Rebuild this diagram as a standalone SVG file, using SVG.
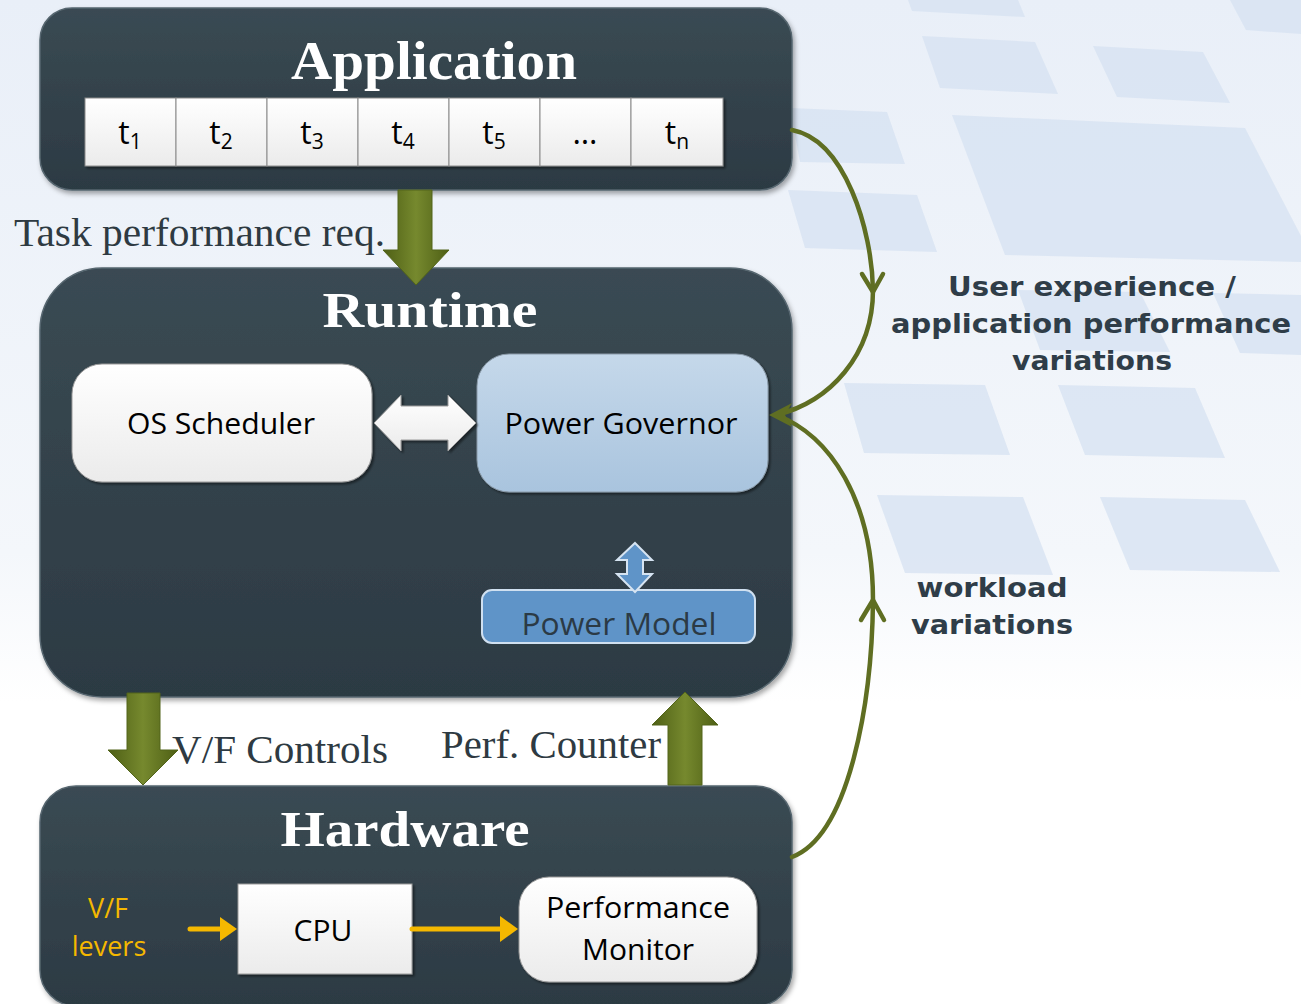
<svg xmlns="http://www.w3.org/2000/svg" width="1301" height="1004" viewBox="0 0 1301 1004">
<defs>
  <linearGradient id="bg" x1="0" y1="0" x2="0" y2="1">
    <stop offset="0" stop-color="#e9eff8"/>
    <stop offset="0.55" stop-color="#f4f7fb"/>
    <stop offset="0.7" stop-color="#ffffff"/>
    <stop offset="1" stop-color="#ffffff"/>
  </linearGradient>
  <linearGradient id="dark" x1="0" y1="0" x2="0" y2="1">
    <stop offset="0" stop-color="#3a4a53"/>
    <stop offset="0.5" stop-color="#33424b"/>
    <stop offset="1" stop-color="#2c3a43"/>
  </linearGradient>
  <linearGradient id="white" x1="0" y1="0" x2="0" y2="1">
    <stop offset="0" stop-color="#ffffff"/>
    <stop offset="1" stop-color="#ebebeb"/>
  </linearGradient>
  <linearGradient id="lblue" x1="0" y1="0" x2="0" y2="1">
    <stop offset="0" stop-color="#c5d8ea"/>
    <stop offset="1" stop-color="#a9c4de"/>
  </linearGradient>
  <linearGradient id="olive" x1="0" y1="0" x2="1" y2="0">
    <stop offset="0" stop-color="#4e5f15"/>
    <stop offset="0.5" stop-color="#76892e"/>
    <stop offset="1" stop-color="#4e5f15"/>
  </linearGradient>
  <filter id="sh" x="-10%" y="-10%" width="120%" height="125%">
    <feDropShadow dx="2" dy="3" stdDeviation="2.5" flood-color="#000" flood-opacity="0.35"/>
  </filter>
  <filter id="sh2" x="-10%" y="-10%" width="120%" height="125%">
    <feDropShadow dx="2" dy="2" stdDeviation="1" flood-color="#000" flood-opacity="0.45"/>
  </filter>
  <style>
    .dark{fill:url(#dark);stroke:#56666f;stroke-width:1.5;filter:url(#sh)}
    .title{font-family:"Liberation Serif",serif;font-weight:bold;fill:#ffffff;text-anchor:middle}
    .serif{font-family:"Liberation Serif",serif;fill:#2e3a42;font-size:39px}
    .sans{font-family:"Open Sans","Liberation Sans",sans-serif;fill:#000;text-anchor:middle}
    .cell{fill:url(#white);stroke:#8a8a8a;stroke-width:1}
    .tk{font-family:"Open Sans","Liberation Sans",sans-serif;fill:#000;font-size:32px;text-anchor:middle}
    .lbl{font-family:"DejaVu Sans",sans-serif;font-weight:bold;fill:#2f3d48;font-size:27px;text-anchor:middle}
    .curve{fill:none;stroke:#5f6e22;stroke-width:4.5;stroke-linecap:round;stroke-linejoin:round}
    .tile{fill:#d6e2f2;opacity:0.75}
    .orange{stroke:#f5b800;stroke-width:5;fill:none;stroke-linecap:round}
    .block{fill:url(#olive);stroke:#52641a;stroke-width:1}
  </style>
</defs>

<rect width="1301" height="1004" fill="url(#bg)"/>
<g id="background-tiles">
  <polygon class="tile" points="908,0 1018,0 1025,17 912,11"/>
  <polygon class="tile" points="922,36 1035,42 1058,94 940,88"/>
  <polygon class="tile" points="1093,46 1203,52 1230,103 1117,97"/>
  <polygon class="tile" points="1230,0 1301,0 1301,34 1246,30"/>
  <polygon class="tile" points="790,108 887,112 905,164 800,162"/>
  <polygon class="tile" points="952,115 1245,128 1301,236 1301,262 1005,255"/>
  <polygon class="tile" points="788,190 917,195 937,252 805,248"/>
  <polygon class="tile" points="1018,290 1140,292 1170,352 1040,350"/>
  <polygon class="tile" points="1213,293 1301,295 1301,355 1240,353"/>
  <polygon class="tile" points="844,383 985,385 1010,455 864,453"/>
  <polygon class="tile" points="1058,385 1195,388 1225,458 1085,455"/>
  <polygon class="tile" points="877,495 1023,497 1053,575 905,573"/>
  <polygon class="tile" points="1100,497 1245,500 1280,572 1130,570"/>
</g>

<g id="application">
  <rect class="dark" x="40" y="8" width="752" height="182" rx="32"/>
  <text class="title" x="434" y="79" font-size="54" textLength="286" lengthAdjust="spacingAndGlyphs">Application</text>
  <g id="tasks" filter="url(#sh2)">
    <rect class="cell" x="85" y="98" width="91" height="68"/>
    <rect class="cell" x="176" y="98" width="91" height="68"/>
    <rect class="cell" x="267" y="98" width="91" height="68"/>
    <rect class="cell" x="358" y="98" width="91" height="68"/>
    <rect class="cell" x="449" y="98" width="91" height="68"/>
    <rect class="cell" x="540" y="98" width="91" height="68"/>
    <rect class="cell" x="631" y="98" width="92" height="68"/>
  </g>
  <text class="tk" x="130" y="144">t<tspan font-size="21" dy="5">1</tspan></text>
  <text class="tk" x="221" y="144">t<tspan font-size="21" dy="5">2</tspan></text>
  <text class="tk" x="312" y="144">t<tspan font-size="21" dy="5">3</tspan></text>
  <text class="tk" x="403" y="144">t<tspan font-size="21" dy="5">4</tspan></text>
  <text class="tk" x="494" y="144">t<tspan font-size="21" dy="5">5</tspan></text>
  <text class="tk" x="585" y="144" font-size="22">…</text>
  <text class="tk" x="677" y="144">t<tspan font-size="21" dy="5">n</tspan></text>
</g>

<text class="serif" x="14" y="246" textLength="371" lengthAdjust="spacingAndGlyphs">Task performance req.</text>

<g id="runtime">
  <rect class="dark" x="40" y="268" width="752" height="429" rx="62"/>
  <text class="title" x="430" y="327" font-size="50" textLength="215" lengthAdjust="spacingAndGlyphs">Runtime</text>
</g>

<g id="os-scheduler">
  <rect x="72" y="364" width="300" height="118" rx="30" fill="url(#white)" stroke="#9a9a9a" stroke-width="1" filter="url(#sh2)"/>
  <text class="sans" x="221" y="434" font-size="30" textLength="188" lengthAdjust="spacingAndGlyphs">OS Scheduler</text>
</g>

<g id="power-governor">
  <rect x="477" y="354" width="291" height="138" rx="32" fill="url(#lblue)" stroke="#8a9aa8" stroke-width="1" filter="url(#sh2)"/>
  <text class="sans" x="621" y="434" font-size="30" textLength="233" lengthAdjust="spacingAndGlyphs">Power Governor</text>
</g>

<g id="power-model">
  <rect x="482" y="590" width="273" height="53" rx="10" fill="#5f94c8" stroke="#d0e0f0" stroke-width="2"/>
  <text class="sans" x="619" y="635" font-size="31" style="fill:#2b3a45" textLength="195" lengthAdjust="spacingAndGlyphs">Power Model</text>
</g>

<text class="serif" x="172" y="763" textLength="216" lengthAdjust="spacingAndGlyphs">V/F Controls</text>
<text class="serif" x="441" y="758" textLength="220" lengthAdjust="spacingAndGlyphs">Perf. Counter</text>

<g id="hardware">
  <rect class="dark" x="40" y="786" width="752" height="220" rx="36"/>
  <text class="title" x="405" y="846" font-size="50" textLength="249" lengthAdjust="spacingAndGlyphs">Hardware</text>
</g>

<g id="vf-levers">
  <text class="sans" x="108" y="918" font-size="27" style="fill:#f5b800">V/F</text>
  <text class="sans" x="109" y="956" font-size="27" style="fill:#f5b800">levers</text>
</g>

<g id="cpu">
  <rect x="238" y="884" width="174" height="90" fill="url(#white)" stroke="#9a9a9a" stroke-width="1" filter="url(#sh2)"/>
  <text class="sans" x="323" y="941" font-size="30">CPU</text>
</g>

<g id="performance-monitor">
  <rect x="519" y="877" width="238" height="105" rx="30" fill="url(#white)" stroke="#9a9a9a" stroke-width="1" filter="url(#sh2)"/>
  <text class="sans" x="638" y="918" font-size="30" textLength="184" lengthAdjust="spacingAndGlyphs">Performance</text>
  <text class="sans" x="638" y="960" font-size="30">Monitor</text>
</g>

<g id="labels">
  <text class="lbl" x="1092" y="296" textLength="288" lengthAdjust="spacingAndGlyphs">User experience /</text>
  <text class="lbl" x="1091" y="333" textLength="400" lengthAdjust="spacingAndGlyphs">application performance</text>
  <text class="lbl" x="1092" y="370" textLength="160" lengthAdjust="spacingAndGlyphs">variations</text>
  <text class="lbl" x="992" y="597" textLength="151" lengthAdjust="spacingAndGlyphs">workload</text>
  <text class="lbl" x="992" y="634" textLength="162" lengthAdjust="spacingAndGlyphs">variations</text>
</g>

<g id="connectors">
  <path class="block" d="M398,190 H432 V250 H449 L416,285 L383,250 H398 Z"/>
  <path class="block" d="M127,693 H160 V750 H178 L143,785 L108,750 H127 Z"/>
  <path class="block" d="M668,785 H702 V725 H718 L685,692 L652,725 H668 Z"/>
  <path d="M374,423 L401,395 V406 H448 V395 L476,423 L448,451 V440 H401 V451 Z" fill="url(#white)" stroke="#9a9a9a" stroke-width="1" filter="url(#sh2)"/>
  <path d="M635,543 L652,560 H643 V574 H652 L635,592 L617,574 H627 V560 H617 Z" fill="#5f94c8" stroke="#d6e4f2" stroke-width="2"/>
  <line class="orange" x1="190" y1="929" x2="224" y2="929"/>
  <path d="M220,917 L237,929 L220,941 Z" fill="#f5b800"/>
  <line class="orange" x1="412" y1="929" x2="504" y2="929"/>
  <path d="M500,916 L518,929 L500,942 Z" fill="#f5b800"/>
  <path class="curve" d="M792,130 C845,140 872,230 873,290 C873,355 830,402 776,415"/>
  <path class="curve" d="M862,274 L873,292 L883,274"/>
  <path class="curve" d="M792,857 C850,835 872,700 873,600 C873,500 830,435 776,415"/>
  <path class="curve" d="M861,620 L873,600 L884,620"/>
  <path d="M769,415 L792,403 L785,415 L792,427 Z" fill="#5f6e22"/>
</g>
</svg>
